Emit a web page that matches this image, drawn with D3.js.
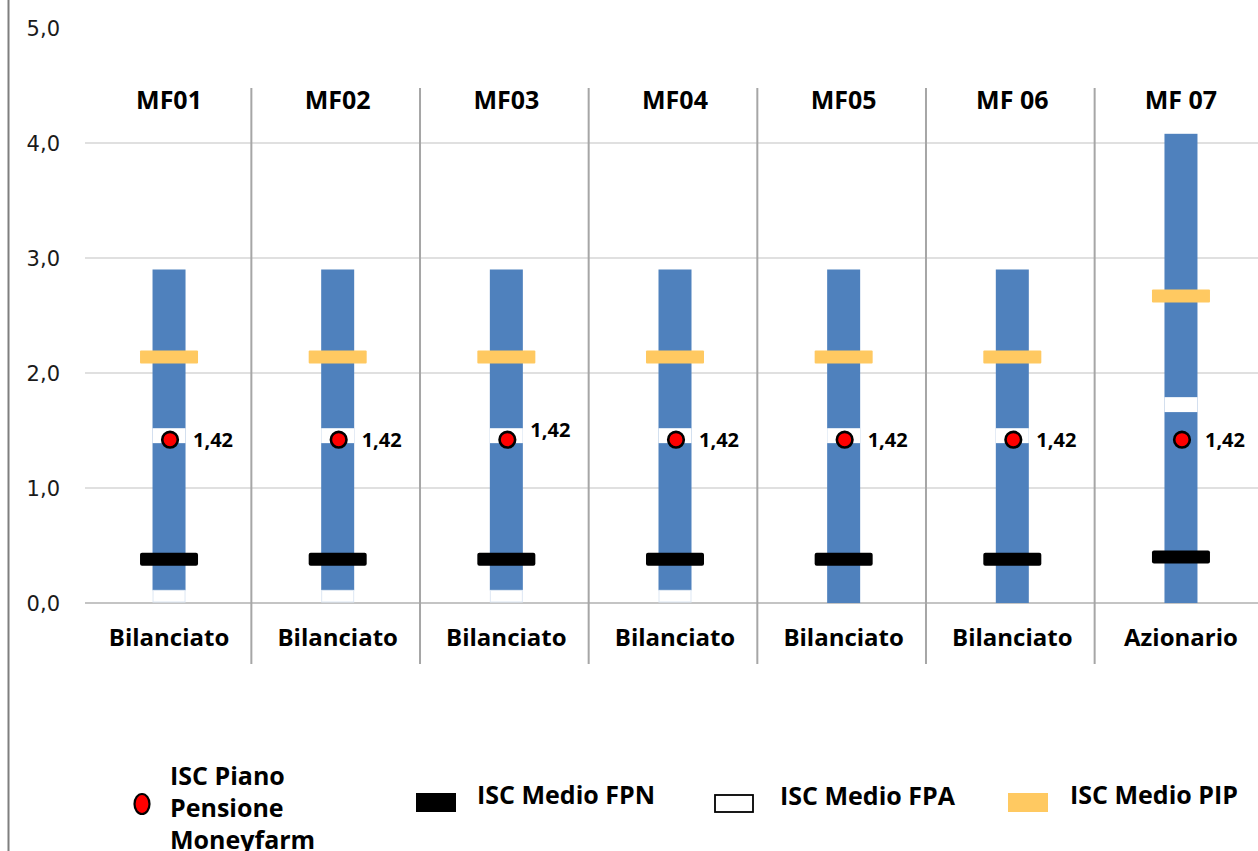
<!DOCTYPE html>
<html>
<head>
<meta charset="utf-8">
<script src="https://cdn.jsdelivr.net/npm/d3@7"></script>
<style>
  html, body { margin: 0; padding: 0; background: #fff; }
  svg { display: block; }
  .bold { font-family: "Open Sans", sans-serif; font-weight: 700; fill: #000; }
  .tick-label { font-family: "DejaVu Sans", sans-serif; font-size: 21px; fill: #1a1a1a; }
</style>
</head>
<body>
<svg id="chart" width="1258" height="851"></svg>
<script>
const funds = ['MF01', 'MF02', 'MF03', 'MF04', 'MF05', 'MF 06', 'MF 07'];
const profiles = ['Bilanciato', 'Bilanciato', 'Bilanciato', 'Bilanciato', 'Bilanciato', 'Bilanciato', 'Azionario'];
const rangeMin = [0.11, 0.11, 0.11, 0.11, 0, 0, 0];
const rangeMax = [2.9, 2.9, 2.9, 2.9, 2.9, 2.9, 4.08];
const fpaLow = [1.39, 1.39, 1.39, 1.39, 1.39, 1.39, 1.66];
const fpaHigh = [1.52, 1.52, 1.52, 1.52, 1.52, 1.52, 1.79];
const fpnValues = [0.38, 0.38, 0.38, 0.38, 0.38, 0.38, 0.40];
const pipValues = [2.14, 2.14, 2.14, 2.14, 2.14, 2.14, 2.67];
const moneyfarmValues = [1.42, 1.42, 1.42, 1.42, 1.42, 1.42, 1.42];
const yTicks = [0, 1, 2, 3, 4, 5];

const svg = d3.select('#chart');
const fmt = (v) => d3.format('.1f')(v).replace('.', ',');
const fmt2 = (v) => d3.format('.2f')(v).replace('.', ',');

const x = d3.scaleBand().domain(funds).range([84.7, 1265.3]).padding(0);
const y = d3.scaleLinear().domain([0, 5]).range([603, 28]);
const cx = (d) => x(d) + x.bandwidth() / 2;

const rows = funds.map((f, i) => ({
  fund: f, profile: profiles[i], min: rangeMin[i], max: rangeMax[i],
  fpaLow: fpaLow[i], fpaHigh: fpaHigh[i], fpn: fpnValues[i], pip: pipValues[i], mf: moneyfarmValues[i],
}));

// left axis line
svg.append('line').attr('x1', 8.5).attr('x2', 8.5).attr('y1', 0).attr('y2', 851)
  .attr('stroke', '#7f7f7f').attr('stroke-width', 2);

// gridlines (no line at 5)
svg.append('g').selectAll('line').data(yTicks.filter((t) => t < 5)).join('line')
  .attr('x1', 85).attr('x2', 1258)
  .attr('y1', (d) => y(d)).attr('y2', (d) => y(d))
  .attr('stroke', (d) => d === 0 ? '#c4c4c4' : '#d6d6d6')
  .attr('stroke-width', (d) => d === 0 ? 2 : 1.3);

svg.append('g').selectAll('text').data(yTicks).join('text')
  .attr('class', 'tick-label')
  .attr('x', 60).attr('y', (d) => y(d)).attr('dy', '0.36em')
  .attr('text-anchor', 'end')
  .text(fmt);

// column separators
svg.append('g').selectAll('line').data(funds.slice(1)).join('line')
  .attr('x1', (d) => x(d) - 2).attr('x2', (d) => x(d) - 2)
  .attr('y1', 88).attr('y2', 664)
  .attr('stroke', '#a6a6a6').attr('stroke-width', 2);

const barW = 33;
const markW = 58;
const markH = 13;

const g = svg.append('g');

// blue range bars
g.selectAll('rect.range').data(rows).join('rect')
  .attr('class', 'range')
  .attr('x', (d) => cx(d.fund) - barW / 2).attr('width', barW)
  .attr('y', (d) => y(d.max)).attr('height', (d) => y(d.min) - y(d.max))
  .attr('fill', '#4f81bd');

// white base segment
g.selectAll('rect.base').data(rows.filter((d) => d.min > 0)).join('rect')
  .attr('class', 'base')
  .attr('x', (d) => cx(d.fund) - barW / 2 + 0.5).attr('width', barW - 1)
  .attr('y', (d) => y(d.min)).attr('height', (d) => y(0) - y(d.min) - 1)
  .attr('fill', '#fff').attr('stroke', '#dde7f3').attr('stroke-width', 1);

// FPA white segment
g.selectAll('rect.fpa').data(rows).join('rect')
  .attr('class', 'fpa')
  .attr('x', (d) => cx(d.fund) - barW / 2).attr('width', barW)
  .attr('y', (d) => y(d.fpaHigh)).attr('height', (d) => y(d.fpaLow) - y(d.fpaHigh))
  .attr('fill', '#fff');

// FPN black markers
g.selectAll('rect.fpn').data(rows).join('rect')
  .attr('class', 'fpn')
  .attr('x', (d) => cx(d.fund) - markW / 2).attr('width', markW)
  .attr('y', (d) => y(d.fpn) - markH / 2).attr('height', markH)
  .attr('rx', 2).attr('fill', '#000');

// PIP yellow markers
g.selectAll('rect.pip').data(rows).join('rect')
  .attr('class', 'pip')
  .attr('x', (d) => cx(d.fund) - markW / 2).attr('width', markW)
  .attr('y', (d) => y(d.pip) - markH / 2).attr('height', markH)
  .attr('rx', 1).attr('fill', '#ffc961');

// Moneyfarm dots
g.selectAll('circle.mf').data(rows).join('circle')
  .attr('class', 'mf')
  .attr('cx', (d) => cx(d.fund) + 1).attr('cy', (d) => y(d.mf))
  .attr('r', 7.8).attr('fill', '#ff0000').attr('stroke', '#000').attr('stroke-width', 2.6);

const labelNudge = { MF03: -10 };
g.selectAll('text.val').data(rows).join('text')
  .attr('class', 'bold val')
  .attr('x', (d) => cx(d.fund) + 24).attr('y', (d) => y(d.mf) + (labelNudge[d.fund] || 0))
  .attr('dy', '0.36em')
  .style('font-size', '20px')
  .text((d) => fmt2(d.mf));

// fund titles
svg.append('g').selectAll('text').data(funds).join('text')
  .attr('class', 'bold')
  .attr('x', (d) => cx(d)).attr('y', 100).attr('dy', '0.36em')
  .attr('text-anchor', 'middle').style('font-size', '25px')
  .text((d) => d);

// profile labels
svg.append('g').selectAll('text').data(rows).join('text')
  .attr('class', 'bold')
  .attr('x', (d) => cx(d.fund)).attr('y', 637).attr('dy', '0.36em')
  .attr('text-anchor', 'middle').style('font-size', '24px')
  .text((d) => d.profile);

// legend
const legend = svg.append('g');
legend.append('ellipse').attr('cx', 142).attr('cy', 804).attr('rx', 7.5).attr('ry', 10)
  .attr('fill', '#ff0000').attr('stroke', '#000').attr('stroke-width', 2.2);
legend.append('text').attr('class', 'bold').style('font-size', '25px')
  .selectAll('tspan').data(['ISC Piano', 'Pensione', 'Moneyfarm']).join('tspan')
  .attr('x', 170).attr('y', (d, i) => 785 + i * 32)
  .text((d) => d);

legend.append('rect').attr('x', 416).attr('y', 793).attr('width', 40).attr('height', 19).attr('fill', '#000');
legend.append('text').attr('class', 'bold').style('font-size', '25px')
  .attr('x', 477).attr('y', 804).text('ISC Medio FPN');

legend.append('rect').attr('x', 715).attr('y', 795).attr('width', 38).attr('height', 17)
  .attr('fill', '#fff').attr('stroke', '#000').attr('stroke-width', 1.8);
legend.append('text').attr('class', 'bold').style('font-size', '25px')
  .attr('x', 780).attr('y', 805).text('ISC Medio FPA');

legend.append('rect').attr('x', 1008).attr('y', 793).attr('width', 40).attr('height', 19).attr('fill', '#ffc961');
legend.append('text').attr('class', 'bold').style('font-size', '25px')
  .attr('x', 1070).attr('y', 804).text('ISC Medio PIP');
</script>
</body>
</html>
